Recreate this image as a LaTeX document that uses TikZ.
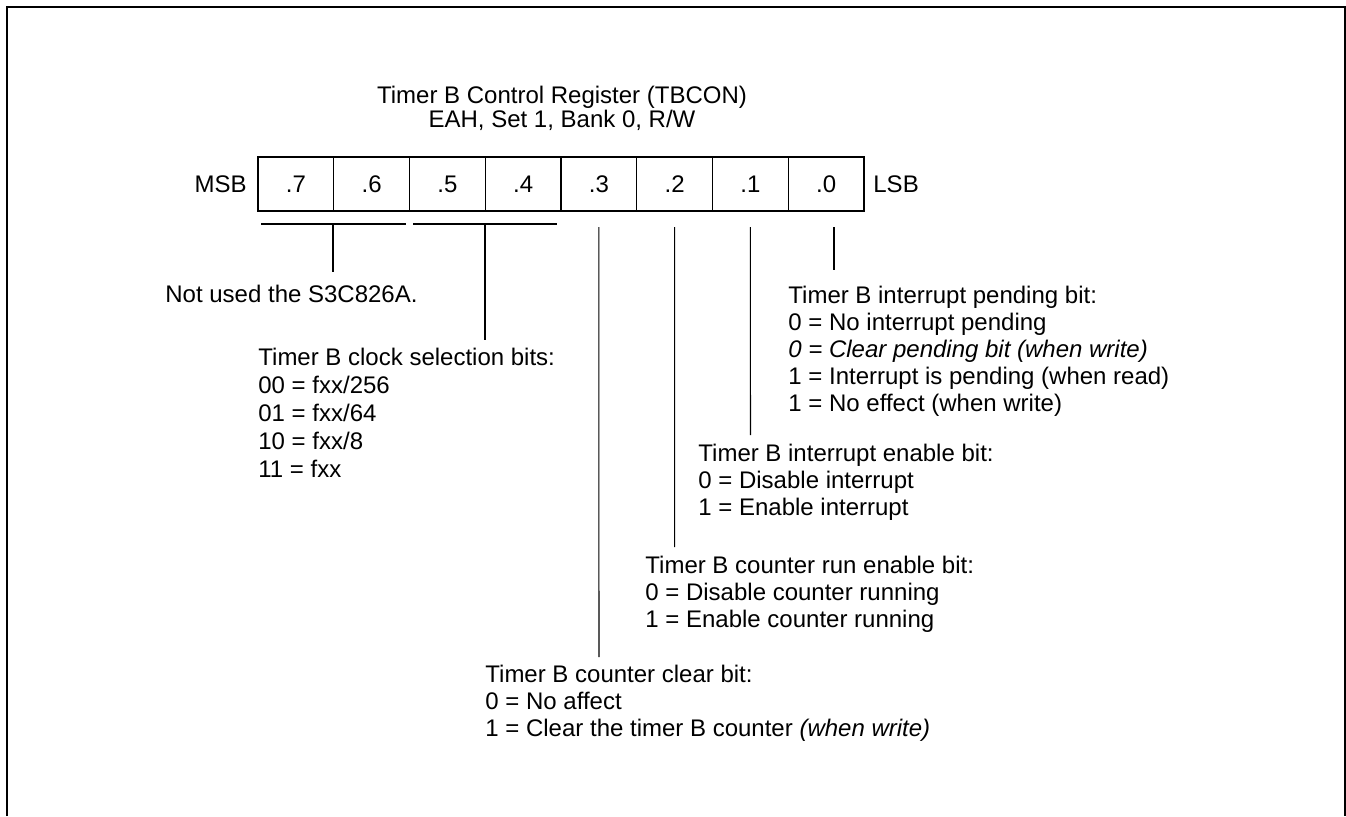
\documentclass[tikz,border=0pt]{standalone}
\usepackage{fontspec}
\setmainfont{Liberation Sans}
\begin{document}
\begin{tikzpicture}[x=0.5pt,y=-0.5pt,
  font=\fontsize{12}{14}\selectfont,
  cell/.style={draw,line width=0.6pt,minimum width=37.875pt,minimum height=27pt,inner sep=0pt,outer sep=0pt},
  txt/.style={anchor=base west,inner sep=0pt},
  conn/.style={line width=0.6pt}]
\useasboundingbox (0,0) rectangle (1346,816);
\draw[line width=1pt] (7,816) -- (7,7) -- (1345,7) -- (1345,816);
% title
\node[anchor=base,inner sep=0pt] (t1) at (562,103) {Timer B Control Register (TBCON)};
\node[anchor=base,inner sep=0pt] (t2) at (562,127) {EAH, Set 1, Bank 0, R/W};
% register cells
\foreach \k/\b in {0/7,1/6,2/5,3/4,4/3,5/2,6/1,7/0}{
  \node[cell] (c\b) at (258+75.75*\k+37.875,184) {.\b};
}
\node[anchor=base east,inner sep=0pt] (msb) at (247,192) {MSB};
\node[anchor=base west,inner sep=0pt] (lsb) at (873,192) {LSB};
% texts
\node[txt] (nu) at (165,302) {Not used the S3C826A.};
\node[txt] (ck1) at (258,365) {Timer B clock selection bits:};
\node[txt] (ck2) at (258,393) {00 = fxx/256};
\node[txt] (ck3) at (258,421) {01 = fxx/64};
\node[txt] (ck4) at (258,449) {10 = fxx/8};
\node[txt] (ck5) at (258,477) {11 = fxx};
\node[txt] (pd1) at (788,303) {Timer B interrupt pending bit:};
\node[txt] (pd2) at (788,330) {0 = No interrupt pending};
\node[txt] (pd3) at (788,357) {\itshape 0 = Clear pending bit (when write)};
\node[txt] (pd4) at (788,384) {1 = Interrupt is pending (when read)};
\node[txt] (pd5) at (788,411) {1 = No effect (when write)};
\node[txt] (en1) at (698,461) {Timer B interrupt enable bit:};
\node[txt] (en2) at (698,488) {0 = Disable interrupt};
\node[txt] (en3) at (698,515) {1 = Enable interrupt};
\node[txt] (rn1) at (645,573) {Timer B counter run enable bit:};
\node[txt] (rn2) at (645,600) {0 = Disable counter running};
\node[txt] (rn3) at (645,627) {1 = Enable counter running};
\node[txt] (cl1) at (485,682) {Timer B counter clear bit:};
\node[txt] (cl2) at (485,709) {0 = No affect};
\node[txt] (cl3) at (485,736) {1 = Clear the timer B counter \textit{(when write)}};
% brackets and connector coordinates
\coordinate (b1l) at (261,224); \coordinate (b1r) at (406,224);
\coordinate (b2l) at (413,224); \coordinate (b2r) at (557,224);
\coordinate (s1t) at (333,224); \coordinate (s1b) at (333,272);
\coordinate (s2t) at (485,224); \coordinate (s2b) at (485,340);
\coordinate (e3) at (598.9,657);
\coordinate (e2) at (674.6,547);
\coordinate (e1) at (750.4,435);
\coordinate (e0t) at (834,227);
\coordinate (e0) at (834,270);
\draw[conn] (b1l) -- (b1r);
\draw[conn] (b2l) -- (b2r);
\draw[conn] (s1t) -- (s1b);
\draw[conn] (s2t) -- (s2b);
\draw[conn] ([yshift=-8pt]c3.south) -- (e3);
\draw[conn] ([yshift=-8pt]c2.south) -- (e2);
\draw[conn] ([yshift=-8pt]c1.south) -- (e1);
\draw[conn] (e0t) -- (e0);
\end{tikzpicture}
\end{document}
